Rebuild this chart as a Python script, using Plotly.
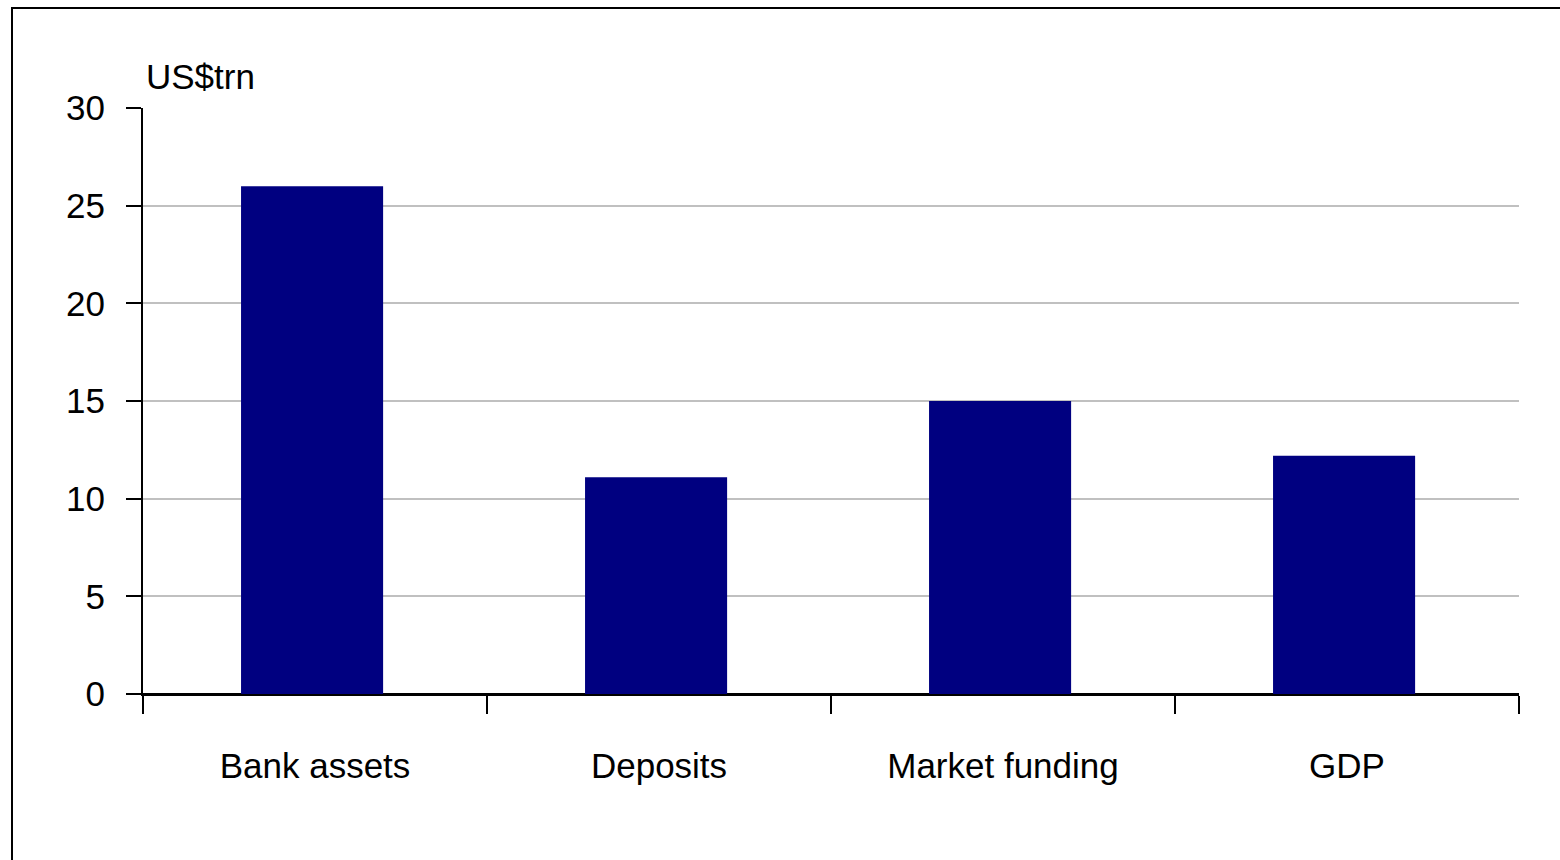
import plotly.graph_objects as go

categories = ["Bank assets", "Deposits", "Market funding", "GDP"]
values = [26.0, 11.1, 15.0, 12.2]
y_ticks = [0, 5, 10, 15, 20, 25, 30]
unit_label = "US$trn"

FONT = "Liberation Sans Narrow, Arial Narrow, Liberation Sans, Arial, sans-serif"

fig = go.Figure(go.Bar(x=categories, y=values, marker=dict(color="#000080", line=dict(width=0)),
                       width=0.413, offset=-0.215))

fig.update_layout(
    width=1560, height=860,
    margin=dict(l=143, r=41, t=108, b=166),
    paper_bgcolor="white", plot_bgcolor="white",
    font=dict(family=FONT, size=35, color="black"),
    showlegend=False,
)
fig.update_xaxes(
    type="category", showline=True, linecolor="black", linewidth=2,
    ticks="outside", tickson="boundaries", ticklen=18, tickwidth=2, tickcolor="black",
    ticklabelstandoff=40, showgrid=False, tickfont=dict(size=35),
)
fig.update_yaxes(
    range=[0, 30], tickvals=y_ticks, showline=True, linecolor="black", linewidth=2,
    ticks="outside", ticklen=15, tickwidth=2, tickcolor="black",
    showgrid=True, gridcolor="#c0c0c0", gridwidth=2,
    zeroline=True, zerolinecolor="black", zerolinewidth=2,
    ticklabelstandoff=14, tickfont=dict(size=35),
)
fig.add_annotation(text=unit_label, xref="paper", yref="paper", x=0.001, y=1.0,
                   xanchor="left", yanchor="bottom", yshift=10, showarrow=False,
                   font=dict(size=35))
fig.add_shape(type="rect", xref="paper", yref="paper",
              x0=(12 - 143) / 1376, x1=(1575 - 143) / 1376,
              y0=(694 - 875) / 586, y1=(694 - 8) / 586,
              line=dict(color="black", width=2), fillcolor="rgba(0,0,0,0)", layer="below")

fig.write_html("out.html")
